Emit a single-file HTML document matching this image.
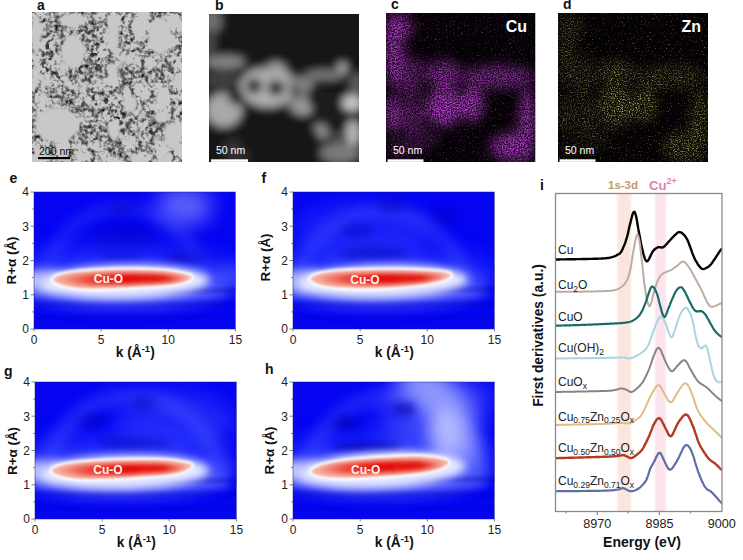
<!DOCTYPE html>
<html><head><meta charset="utf-8"><style>
html,body{margin:0;padding:0;background:#fff;width:743px;height:560px;overflow:hidden}
svg{position:absolute;left:0;top:0;font-family:"Liberation Sans", sans-serif}
</style></head><body>
<svg width="743" height="560" viewBox="0 0 743 560">
<filter id="bi" x="-50%" y="0" width="200%" height="100%"><feGaussianBlur stdDeviation="1.2 0"/></filter>
<rect x="617.5" y="193" width="13.5" height="318.5" fill="#fae6dc" filter="url(#bi)"/>
<rect x="655" y="193" width="11" height="318.5" fill="#fbe4ec" filter="url(#bi)"/>
<clipPath id="clipi"><rect x="555.5" y="193.5" width="166.5" height="318"/></clipPath>
<g clip-path="url(#clipi)" fill="none" stroke-linejoin="round" stroke-linecap="round">
<path d="M555.0,259.49 L555.8,259.49 L556.5,259.48 L557.2,259.46 L558.0,259.45 L558.8,259.44 L559.5,259.43 L560.2,259.42 L561.0,259.41 L561.8,259.40 L562.5,259.38 L563.2,259.37 L564.0,259.36 L564.8,259.35 L565.5,259.34 L566.2,259.33 L567.0,259.32 L567.8,259.30 L568.5,259.29 L569.2,259.28 L570.0,259.27 L570.8,259.26 L571.5,259.24 L572.2,259.23 L573.0,259.22 L573.8,259.21 L574.5,259.20 L575.2,259.18 L576.0,259.17 L576.8,259.16 L577.5,259.14 L578.2,259.13 L579.0,259.12 L579.8,259.10 L580.5,259.09 L581.2,259.08 L582.0,259.06 L582.8,259.05 L583.5,259.03 L584.2,259.02 L585.0,259.00 L585.8,258.98 L586.5,258.97 L587.2,258.95 L588.0,258.93 L588.8,258.92 L589.5,258.90 L590.2,258.89 L591.0,258.87 L591.8,258.85 L592.5,258.84 L593.2,258.82 L594.0,258.80 L594.8,258.78 L595.5,258.76 L596.2,258.74 L597.0,258.72 L597.8,258.70 L598.5,258.67 L599.2,258.65 L600.0,258.62 L600.8,258.58 L601.5,258.55 L602.2,258.51 L603.0,258.46 L603.8,258.41 L604.5,258.36 L605.2,258.29 L606.0,258.22 L606.8,258.14 L607.5,258.05 L608.2,257.95 L609.0,257.82 L609.8,257.68 L610.5,257.51 L611.2,257.33 L612.0,257.13 L612.8,256.91 L613.5,256.67 L614.2,256.39 L615.0,256.08 L615.8,255.73 L616.5,255.35 L617.2,254.94 L618.0,254.54 L618.8,254.14 L619.5,253.69 L620.2,253.03 L621.0,252.06 L621.8,250.78 L622.5,249.26 L623.2,247.59 L624.0,245.79 L624.8,243.87 L625.5,241.81 L626.2,239.55 L627.0,237.02 L627.8,234.14 L628.5,230.94 L629.2,227.56 L630.0,224.22 L630.8,221.09 L631.5,218.16 L632.2,215.45 L633.0,213.19 L633.8,211.83 L634.5,211.77 L635.2,213.19 L636.0,215.94 L636.8,219.67 L637.5,223.95 L638.2,228.40 L639.0,232.73 L639.8,236.82 L640.5,240.72 L641.2,244.48 L642.0,248.02 L642.8,251.27 L643.5,254.20 L644.2,256.78 L645.0,258.94 L645.8,260.52 L646.5,261.34 L647.2,261.34 L648.0,260.62 L648.8,259.41 L649.5,257.97 L650.2,256.45 L651.0,254.87 L651.8,253.32 L652.5,251.94 L653.2,250.83 L654.0,249.97 L654.8,249.28 L655.5,248.70 L656.2,248.19 L657.0,247.76 L657.8,247.40 L658.5,247.16 L659.2,247.08 L660.0,247.19 L660.8,247.40 L661.5,247.57 L662.2,247.57 L663.0,247.33 L663.8,246.87 L664.5,246.24 L665.2,245.51 L666.0,244.71 L666.8,243.87 L667.5,243.02 L668.2,242.17 L669.0,241.34 L669.8,240.52 L670.5,239.70 L671.2,238.87 L672.0,238.05 L672.8,237.24 L673.5,236.45 L674.2,235.71 L675.0,234.99 L675.8,234.29 L676.5,233.58 L677.2,232.94 L678.0,232.43 L678.8,232.13 L679.5,232.06 L680.2,232.20 L681.0,232.50 L681.8,232.93 L682.5,233.47 L683.2,234.10 L684.0,234.85 L684.8,235.71 L685.5,236.70 L686.2,237.84 L687.0,239.16 L687.8,240.69 L688.5,242.45 L689.2,244.38 L690.0,246.45 L690.8,248.59 L691.5,250.74 L692.2,252.83 L693.0,254.82 L693.8,256.64 L694.5,258.30 L695.2,259.80 L696.0,261.18 L696.8,262.47 L697.5,263.68 L698.2,264.80 L699.0,265.85 L699.8,266.79 L700.5,267.64 L701.2,268.33 L702.0,268.84 L702.8,269.09 L703.5,269.09 L704.2,268.88 L705.0,268.53 L705.8,268.15 L706.5,267.79 L707.2,267.41 L708.0,266.98 L708.8,266.46 L709.5,265.83 L710.2,265.08 L711.0,264.22 L711.8,263.26 L712.5,262.23 L713.2,261.14 L714.0,260.02 L714.8,258.89 L715.5,257.76 L716.2,256.63 L717.0,255.50 L717.8,254.36 L718.5,253.22 L719.2,252.07 L720.0,250.93 L720.8,249.89 L721.5,249.11" stroke="#050505" stroke-width="2.4"/>
<path d="M555.0,291.80 L555.8,291.79 L556.5,291.79 L557.2,291.78 L558.0,291.78 L558.8,291.78 L559.5,291.77 L560.2,291.77 L561.0,291.77 L561.8,291.76 L562.5,291.76 L563.2,291.75 L564.0,291.75 L564.8,291.75 L565.5,291.74 L566.2,291.74 L567.0,291.74 L567.8,291.73 L568.5,291.73 L569.2,291.72 L570.0,291.72 L570.8,291.71 L571.5,291.71 L572.2,291.71 L573.0,291.70 L573.8,291.70 L574.5,291.69 L575.2,291.68 L576.0,291.68 L576.8,291.67 L577.5,291.67 L578.2,291.66 L579.0,291.65 L579.8,291.65 L580.5,291.64 L581.2,291.63 L582.0,291.62 L582.8,291.61 L583.5,291.61 L584.2,291.60 L585.0,291.59 L585.8,291.58 L586.5,291.56 L587.2,291.55 L588.0,291.54 L588.8,291.52 L589.5,291.51 L590.2,291.49 L591.0,291.48 L591.8,291.46 L592.5,291.45 L593.2,291.43 L594.0,291.42 L594.8,291.40 L595.5,291.38 L596.2,291.37 L597.0,291.35 L597.8,291.34 L598.5,291.32 L599.2,291.30 L600.0,291.28 L600.8,291.26 L601.5,291.24 L602.2,291.22 L603.0,291.19 L603.8,291.17 L604.5,291.14 L605.2,291.10 L606.0,291.07 L606.8,291.02 L607.5,290.98 L608.2,290.93 L609.0,290.87 L609.8,290.81 L610.5,290.73 L611.2,290.65 L612.0,290.56 L612.8,290.45 L613.5,290.33 L614.2,290.19 L615.0,290.03 L615.8,289.85 L616.5,289.62 L617.2,289.36 L618.0,289.05 L618.8,288.67 L619.5,288.25 L620.2,287.77 L621.0,287.26 L621.8,286.72 L622.5,286.13 L623.2,285.46 L624.0,284.70 L624.8,283.81 L625.5,282.77 L626.2,281.56 L627.0,280.17 L627.8,278.54 L628.5,276.59 L629.2,274.21 L630.0,271.23 L630.8,267.52 L631.5,263.06 L632.2,258.16 L633.0,253.33 L633.8,248.85 L634.5,244.71 L635.2,240.91 L636.0,237.65 L636.8,235.33 L637.5,234.48 L638.2,235.50 L639.0,238.45 L639.8,242.96 L640.5,248.59 L641.2,255.11 L642.0,262.24 L642.8,269.49 L643.5,276.33 L644.2,282.56 L645.0,288.19 L645.8,293.17 L646.5,297.45 L647.2,300.98 L648.0,303.73 L648.8,305.61 L649.5,306.35 L650.2,305.70 L651.0,303.75 L651.8,300.98 L652.5,297.92 L653.2,294.81 L654.0,291.81 L654.8,289.08 L655.5,286.66 L656.2,284.49 L657.0,282.50 L657.8,280.68 L658.5,279.04 L659.2,277.61 L660.0,276.40 L660.8,275.44 L661.5,274.69 L662.2,274.10 L663.0,273.61 L663.8,273.16 L664.5,272.76 L665.2,272.39 L666.0,272.06 L666.8,271.75 L667.5,271.47 L668.2,271.18 L669.0,270.89 L669.8,270.57 L670.5,270.22 L671.2,269.83 L672.0,269.40 L672.8,268.94 L673.5,268.45 L674.2,267.93 L675.0,267.41 L675.8,266.87 L676.5,266.33 L677.2,265.75 L678.0,265.11 L678.8,264.40 L679.5,263.67 L680.2,262.96 L681.0,262.34 L681.8,261.86 L682.5,261.58 L683.2,261.53 L684.0,261.74 L684.8,262.19 L685.5,262.84 L686.2,263.65 L687.0,264.58 L687.8,265.60 L688.5,266.68 L689.2,267.81 L690.0,268.95 L690.8,270.11 L691.5,271.33 L692.2,272.65 L693.0,274.07 L693.8,275.55 L694.5,277.01 L695.2,278.42 L696.0,279.78 L696.8,281.12 L697.5,282.45 L698.2,283.78 L699.0,285.12 L699.8,286.49 L700.5,287.90 L701.2,289.37 L702.0,290.94 L702.8,292.60 L703.5,294.34 L704.2,296.10 L705.0,297.81 L705.8,299.41 L706.5,300.90 L707.2,302.28 L708.0,303.56 L708.8,304.68 L709.5,305.61 L710.2,306.29 L711.0,306.71 L711.8,306.87 L712.5,306.82 L713.2,306.63 L714.0,306.37 L714.8,306.09 L715.5,305.80 L716.2,305.50 L717.0,305.18 L717.8,304.83 L718.5,304.47 L719.2,304.11 L720.0,303.74 L720.8,303.41 L721.5,303.16" stroke="#bcaca2" stroke-width="2.0"/>
<path d="M555.0,325.69 L555.8,325.68 L556.5,325.66 L557.2,325.64 L558.0,325.62 L558.8,325.60 L559.5,325.58 L560.2,325.56 L561.0,325.54 L561.8,325.52 L562.5,325.50 L563.2,325.49 L564.0,325.47 L564.8,325.45 L565.5,325.43 L566.2,325.41 L567.0,325.39 L567.8,325.37 L568.5,325.35 L569.2,325.33 L570.0,325.30 L570.8,325.28 L571.5,325.26 L572.2,325.24 L573.0,325.22 L573.8,325.20 L574.5,325.18 L575.2,325.15 L576.0,325.13 L576.8,325.11 L577.5,325.08 L578.2,325.06 L579.0,325.03 L579.8,325.01 L580.5,324.98 L581.2,324.96 L582.0,324.93 L582.8,324.90 L583.5,324.87 L584.2,324.85 L585.0,324.82 L585.8,324.79 L586.5,324.76 L587.2,324.73 L588.0,324.70 L588.8,324.67 L589.5,324.64 L590.2,324.61 L591.0,324.58 L591.8,324.55 L592.5,324.52 L593.2,324.48 L594.0,324.45 L594.8,324.42 L595.5,324.39 L596.2,324.35 L597.0,324.32 L597.8,324.28 L598.5,324.25 L599.2,324.21 L600.0,324.18 L600.8,324.14 L601.5,324.10 L602.2,324.07 L603.0,324.03 L603.8,323.99 L604.5,323.96 L605.2,323.92 L606.0,323.88 L606.8,323.85 L607.5,323.81 L608.2,323.78 L609.0,323.75 L609.8,323.71 L610.5,323.68 L611.2,323.65 L612.0,323.61 L612.8,323.58 L613.5,323.54 L614.2,323.50 L615.0,323.47 L615.8,323.43 L616.5,323.39 L617.2,323.34 L618.0,323.30 L618.8,323.25 L619.5,323.20 L620.2,323.15 L621.0,323.09 L621.8,323.03 L622.5,322.97 L623.2,322.89 L624.0,322.81 L624.8,322.72 L625.5,322.63 L626.2,322.52 L627.0,322.41 L627.8,322.29 L628.5,322.15 L629.2,321.98 L630.0,321.79 L630.8,321.56 L631.5,321.28 L632.2,320.94 L633.0,320.55 L633.8,320.13 L634.5,319.66 L635.2,319.15 L636.0,318.59 L636.8,317.97 L637.5,317.28 L638.2,316.52 L639.0,315.67 L639.8,314.73 L640.5,313.67 L641.2,312.46 L642.0,311.09 L642.8,309.55 L643.5,307.85 L644.2,306.02 L645.0,304.09 L645.8,302.10 L646.5,300.02 L647.2,297.80 L648.0,295.46 L648.8,293.14 L649.5,290.98 L650.2,289.08 L651.0,287.58 L651.8,286.69 L652.5,286.51 L653.2,286.93 L654.0,287.77 L654.8,288.92 L655.5,290.29 L656.2,291.92 L657.0,293.88 L657.8,296.27 L658.5,299.05 L659.2,302.00 L660.0,304.94 L660.8,307.81 L661.5,310.60 L662.2,313.21 L663.0,315.40 L663.8,316.83 L664.5,317.18 L665.2,316.39 L666.0,314.76 L666.8,312.79 L667.5,310.82 L668.2,308.90 L669.0,306.99 L669.8,305.10 L670.5,303.23 L671.2,301.41 L672.0,299.59 L672.8,297.80 L673.5,296.05 L674.2,294.39 L675.0,292.87 L675.8,291.54 L676.5,290.40 L677.2,289.43 L678.0,288.62 L678.8,287.97 L679.5,287.50 L680.2,287.24 L681.0,287.24 L681.8,287.55 L682.5,288.21 L683.2,289.16 L684.0,290.32 L684.8,291.61 L685.5,293.01 L686.2,294.51 L687.0,296.11 L687.8,297.74 L688.5,299.33 L689.2,300.87 L690.0,302.36 L690.8,303.83 L691.5,305.27 L692.2,306.66 L693.0,307.95 L693.8,309.10 L694.5,310.04 L695.2,310.72 L696.0,311.15 L696.8,311.36 L697.5,311.44 L698.2,311.43 L699.0,311.33 L699.8,311.17 L700.5,311.07 L701.2,311.13 L702.0,311.40 L702.8,311.85 L703.5,312.46 L704.2,313.22 L705.0,314.11 L705.8,315.16 L706.5,316.35 L707.2,317.63 L708.0,318.95 L708.8,320.28 L709.5,321.63 L710.2,323.00 L711.0,324.38 L711.8,325.75 L712.5,327.07 L713.2,328.32 L714.0,329.48 L714.8,330.54 L715.5,331.48 L716.2,332.33 L717.0,333.09 L717.8,333.80 L718.5,334.47 L719.2,335.11 L720.0,335.73 L720.8,336.29 L721.5,336.72" stroke="#1a6b66" stroke-width="2.2"/>
<path d="M555.0,358.50 L555.8,358.49 L556.5,358.48 L557.2,358.48 L558.0,358.47 L558.8,358.46 L559.5,358.45 L560.2,358.44 L561.0,358.44 L561.8,358.43 L562.5,358.42 L563.2,358.41 L564.0,358.41 L564.8,358.40 L565.5,358.39 L566.2,358.38 L567.0,358.38 L567.8,358.37 L568.5,358.36 L569.2,358.35 L570.0,358.34 L570.8,358.34 L571.5,358.33 L572.2,358.32 L573.0,358.31 L573.8,358.31 L574.5,358.30 L575.2,358.29 L576.0,358.28 L576.8,358.27 L577.5,358.27 L578.2,358.26 L579.0,358.25 L579.8,358.24 L580.5,358.23 L581.2,358.23 L582.0,358.22 L582.8,358.21 L583.5,358.20 L584.2,358.19 L585.0,358.19 L585.8,358.18 L586.5,358.17 L587.2,358.16 L588.0,358.15 L588.8,358.14 L589.5,358.13 L590.2,358.13 L591.0,358.12 L591.8,358.11 L592.5,358.10 L593.2,358.09 L594.0,358.08 L594.8,358.07 L595.5,358.06 L596.2,358.05 L597.0,358.04 L597.8,358.03 L598.5,358.02 L599.2,358.01 L600.0,358.00 L600.8,357.99 L601.5,357.97 L602.2,357.96 L603.0,357.95 L603.8,357.93 L604.5,357.92 L605.2,357.90 L606.0,357.88 L606.8,357.86 L607.5,357.84 L608.2,357.82 L609.0,357.80 L609.8,357.78 L610.5,357.76 L611.2,357.73 L612.0,357.71 L612.8,357.69 L613.5,357.66 L614.2,357.64 L615.0,357.62 L615.8,357.59 L616.5,357.57 L617.2,357.55 L618.0,357.54 L618.8,357.52 L619.5,357.51 L620.2,357.50 L621.0,357.50 L621.8,357.51 L622.5,357.52 L623.2,357.56 L624.0,357.61 L624.8,357.70 L625.5,357.81 L626.2,357.95 L627.0,358.10 L627.8,358.23 L628.5,358.31 L629.2,358.32 L630.0,358.26 L630.8,358.13 L631.5,357.94 L632.2,357.72 L633.0,357.46 L633.8,357.16 L634.5,356.83 L635.2,356.48 L636.0,356.10 L636.8,355.70 L637.5,355.28 L638.2,354.85 L639.0,354.40 L639.8,353.94 L640.5,353.46 L641.2,352.97 L642.0,352.45 L642.8,351.90 L643.5,351.32 L644.2,350.69 L645.0,349.99 L645.8,349.19 L646.5,348.24 L647.2,347.09 L648.0,345.69 L648.8,344.04 L649.5,342.22 L650.2,340.28 L651.0,338.24 L651.8,336.10 L652.5,333.92 L653.2,331.75 L654.0,329.66 L654.8,327.68 L655.5,325.77 L656.2,323.90 L657.0,322.08 L657.8,320.37 L658.5,318.89 L659.2,317.73 L660.0,316.98 L660.8,316.71 L661.5,316.92 L662.2,317.55 L663.0,318.54 L663.8,319.78 L664.5,321.20 L665.2,322.75 L666.0,324.48 L666.8,326.43 L667.5,328.62 L668.2,330.92 L669.0,333.17 L669.8,335.16 L670.5,336.63 L671.2,337.30 L672.0,337.02 L672.8,335.80 L673.5,333.93 L674.2,331.76 L675.0,329.49 L675.8,327.13 L676.5,324.72 L677.2,322.35 L678.0,320.14 L678.8,318.10 L679.5,316.21 L680.2,314.48 L681.0,312.91 L681.8,311.55 L682.5,310.39 L683.2,309.41 L684.0,308.62 L684.8,308.05 L685.5,307.76 L686.2,307.81 L687.0,308.25 L687.8,309.07 L688.5,310.21 L689.2,311.57 L690.0,313.09 L690.8,314.83 L691.5,316.91 L692.2,319.52 L693.0,322.73 L693.8,326.42 L694.5,330.29 L695.2,334.06 L696.0,337.58 L696.8,340.74 L697.5,343.37 L698.2,345.37 L699.0,346.77 L699.8,347.69 L700.5,348.19 L701.2,348.32 L702.0,348.07 L702.8,347.50 L703.5,346.74 L704.2,345.99 L705.0,345.51 L705.8,345.61 L706.5,346.58 L707.2,348.51 L708.0,351.21 L708.8,354.39 L709.5,357.82 L710.2,361.37 L711.0,364.87 L711.8,368.22 L712.5,371.33 L713.2,374.10 L714.0,376.41 L714.8,378.23 L715.5,379.63 L716.2,380.68 L717.0,381.44 L717.8,381.95 L718.5,382.22 L719.2,382.29 L720.0,382.24 L720.8,382.14 L721.5,382.06" stroke="#a9d5e3" stroke-width="2.0"/>
<path d="M555.0,391.99 L555.8,391.98 L556.5,391.97 L557.2,391.96 L558.0,391.94 L558.8,391.93 L559.5,391.91 L560.2,391.90 L561.0,391.89 L561.8,391.87 L562.5,391.86 L563.2,391.84 L564.0,391.83 L564.8,391.82 L565.5,391.80 L566.2,391.79 L567.0,391.78 L567.8,391.76 L568.5,391.75 L569.2,391.74 L570.0,391.72 L570.8,391.71 L571.5,391.69 L572.2,391.68 L573.0,391.67 L573.8,391.65 L574.5,391.64 L575.2,391.63 L576.0,391.61 L576.8,391.60 L577.5,391.58 L578.2,391.57 L579.0,391.55 L579.8,391.54 L580.5,391.53 L581.2,391.51 L582.0,391.50 L582.8,391.48 L583.5,391.47 L584.2,391.45 L585.0,391.44 L585.8,391.42 L586.5,391.41 L587.2,391.39 L588.0,391.38 L588.8,391.36 L589.5,391.35 L590.2,391.33 L591.0,391.31 L591.8,391.30 L592.5,391.28 L593.2,391.27 L594.0,391.25 L594.8,391.23 L595.5,391.22 L596.2,391.20 L597.0,391.18 L597.8,391.16 L598.5,391.14 L599.2,391.12 L600.0,391.10 L600.8,391.08 L601.5,391.06 L602.2,391.04 L603.0,391.02 L603.8,390.99 L604.5,390.97 L605.2,390.94 L606.0,390.91 L606.8,390.88 L607.5,390.85 L608.2,390.81 L609.0,390.77 L609.8,390.72 L610.5,390.67 L611.2,390.60 L612.0,390.51 L612.8,390.40 L613.5,390.27 L614.2,390.13 L615.0,389.99 L615.8,389.84 L616.5,389.67 L617.2,389.46 L618.0,389.23 L618.8,388.98 L619.5,388.76 L620.2,388.58 L621.0,388.48 L621.8,388.47 L622.5,388.55 L623.2,388.70 L624.0,388.91 L624.8,389.16 L625.5,389.44 L626.2,389.73 L627.0,390.06 L627.8,390.46 L628.5,390.94 L629.2,391.42 L630.0,391.81 L630.8,392.01 L631.5,392.00 L632.2,391.79 L633.0,391.44 L633.8,390.98 L634.5,390.45 L635.2,389.88 L636.0,389.26 L636.8,388.62 L637.5,387.95 L638.2,387.25 L639.0,386.52 L639.8,385.77 L640.5,384.97 L641.2,384.11 L642.0,383.15 L642.8,382.04 L643.5,380.79 L644.2,379.42 L645.0,377.98 L645.8,376.50 L646.5,374.97 L647.2,373.37 L648.0,371.70 L648.8,369.92 L649.5,368.02 L650.2,365.95 L651.0,363.72 L651.8,361.40 L652.5,359.13 L653.2,357.01 L654.0,355.07 L654.8,353.25 L655.5,351.53 L656.2,349.99 L657.0,348.77 L657.8,348.00 L658.5,347.76 L659.2,348.10 L660.0,348.96 L660.8,350.25 L661.5,351.85 L662.2,353.63 L663.0,355.51 L663.8,357.40 L664.5,359.23 L665.2,360.96 L666.0,362.57 L666.8,364.12 L667.5,365.65 L668.2,367.13 L669.0,368.49 L669.8,369.66 L670.5,370.55 L671.2,371.10 L672.0,371.27 L672.8,371.05 L673.5,370.50 L674.2,369.70 L675.0,368.77 L675.8,367.81 L676.5,366.91 L677.2,366.08 L678.0,365.29 L678.8,364.48 L679.5,363.65 L680.2,362.83 L681.0,362.04 L681.8,361.34 L682.5,360.75 L683.2,360.35 L684.0,360.18 L684.8,360.31 L685.5,360.77 L686.2,361.56 L687.0,362.66 L687.8,363.97 L688.5,365.42 L689.2,366.89 L690.0,368.31 L690.8,369.65 L691.5,370.96 L692.2,372.28 L693.0,373.61 L693.8,374.95 L694.5,376.25 L695.2,377.50 L696.0,378.67 L696.8,379.74 L697.5,380.70 L698.2,381.54 L699.0,382.26 L699.8,382.90 L700.5,383.46 L701.2,383.97 L702.0,384.44 L702.8,384.89 L703.5,385.33 L704.2,385.78 L705.0,386.24 L705.8,386.75 L706.5,387.31 L707.2,387.92 L708.0,388.59 L708.8,389.30 L709.5,390.04 L710.2,390.81 L711.0,391.59 L711.8,392.36 L712.5,393.13 L713.2,393.87 L714.0,394.58 L714.8,395.26 L715.5,395.92 L716.2,396.56 L717.0,397.19 L717.8,397.82 L718.5,398.44 L719.2,399.05 L720.0,399.66 L720.8,400.21 L721.5,400.62" stroke="#8a8388" stroke-width="2.0"/>
<path d="M555.0,424.99 L555.8,424.98 L556.5,424.97 L557.2,424.95 L558.0,424.94 L558.8,424.92 L559.5,424.91 L560.2,424.89 L561.0,424.87 L561.8,424.86 L562.5,424.84 L563.2,424.83 L564.0,424.81 L564.8,424.80 L565.5,424.78 L566.2,424.77 L567.0,424.75 L567.8,424.74 L568.5,424.72 L569.2,424.71 L570.0,424.69 L570.8,424.67 L571.5,424.66 L572.2,424.64 L573.0,424.63 L573.8,424.61 L574.5,424.60 L575.2,424.58 L576.0,424.57 L576.8,424.55 L577.5,424.53 L578.2,424.52 L579.0,424.50 L579.8,424.49 L580.5,424.47 L581.2,424.45 L582.0,424.44 L582.8,424.42 L583.5,424.41 L584.2,424.39 L585.0,424.37 L585.8,424.36 L586.5,424.34 L587.2,424.32 L588.0,424.30 L588.8,424.29 L589.5,424.27 L590.2,424.25 L591.0,424.23 L591.8,424.22 L592.5,424.20 L593.2,424.18 L594.0,424.16 L594.8,424.14 L595.5,424.12 L596.2,424.10 L597.0,424.08 L597.8,424.06 L598.5,424.04 L599.2,424.02 L600.0,424.00 L600.8,423.98 L601.5,423.95 L602.2,423.93 L603.0,423.90 L603.8,423.87 L604.5,423.84 L605.2,423.81 L606.0,423.78 L606.8,423.75 L607.5,423.72 L608.2,423.68 L609.0,423.65 L609.8,423.61 L610.5,423.57 L611.2,423.53 L612.0,423.49 L612.8,423.45 L613.5,423.41 L614.2,423.36 L615.0,423.32 L615.8,423.28 L616.5,423.24 L617.2,423.19 L618.0,423.15 L618.8,423.12 L619.5,423.08 L620.2,423.05 L621.0,423.02 L621.8,423.00 L622.5,423.01 L623.2,423.03 L624.0,423.08 L624.8,423.15 L625.5,423.25 L626.2,423.34 L627.0,423.41 L627.8,423.42 L628.5,423.34 L629.2,423.19 L630.0,422.96 L630.8,422.68 L631.5,422.35 L632.2,422.00 L633.0,421.61 L633.8,421.20 L634.5,420.76 L635.2,420.30 L636.0,419.81 L636.8,419.30 L637.5,418.76 L638.2,418.18 L639.0,417.56 L639.8,416.88 L640.5,416.13 L641.2,415.25 L642.0,414.22 L642.8,412.98 L643.5,411.53 L644.2,409.92 L645.0,408.23 L645.8,406.57 L646.5,404.93 L647.2,403.29 L648.0,401.62 L648.8,399.95 L649.5,398.33 L650.2,396.79 L651.0,395.36 L651.8,393.99 L652.5,392.65 L653.2,391.32 L654.0,390.01 L654.8,388.77 L655.5,387.63 L656.2,386.64 L657.0,385.85 L657.8,385.31 L658.5,385.11 L659.2,385.31 L660.0,385.92 L660.8,386.91 L661.5,388.19 L662.2,389.65 L663.0,391.18 L663.8,392.67 L664.5,394.04 L665.2,395.32 L666.0,396.59 L666.8,397.88 L667.5,399.14 L668.2,400.31 L669.0,401.29 L669.8,402.00 L670.5,402.36 L671.2,402.31 L672.0,401.83 L672.8,400.97 L673.5,399.80 L674.2,398.43 L675.0,396.99 L675.8,395.57 L676.5,394.24 L677.2,393.02 L678.0,391.87 L678.8,390.72 L679.5,389.56 L680.2,388.41 L681.0,387.29 L681.8,386.23 L682.5,385.26 L683.2,384.43 L684.0,383.78 L684.8,383.37 L685.5,383.26 L686.2,383.49 L687.0,384.06 L687.8,384.97 L688.5,386.19 L689.2,387.64 L690.0,389.26 L690.8,390.97 L691.5,392.75 L692.2,394.66 L693.0,396.75 L693.8,399.01 L694.5,401.36 L695.2,403.69 L696.0,405.90 L696.8,407.91 L697.5,409.69 L698.2,411.25 L699.0,412.62 L699.8,413.86 L700.5,415.01 L701.2,416.09 L702.0,417.11 L702.8,418.09 L703.5,419.03 L704.2,419.95 L705.0,420.86 L705.8,421.75 L706.5,422.63 L707.2,423.50 L708.0,424.33 L708.8,425.12 L709.5,425.86 L710.2,426.57 L711.0,427.25 L711.8,427.93 L712.5,428.60 L713.2,429.30 L714.0,430.01 L714.8,430.75 L715.5,431.49 L716.2,432.24 L717.0,432.99 L717.8,433.74 L718.5,434.49 L719.2,435.24 L720.0,435.98 L720.8,436.66 L721.5,437.16" stroke="#dfbd88" stroke-width="2.0"/>
<path d="M555.0,458.19 L555.8,458.18 L556.5,458.16 L557.2,458.14 L558.0,458.12 L558.8,458.09 L559.5,458.07 L560.2,458.05 L561.0,458.03 L561.8,458.01 L562.5,457.99 L563.2,457.97 L564.0,457.95 L564.8,457.93 L565.5,457.91 L566.2,457.89 L567.0,457.87 L567.8,457.85 L568.5,457.82 L569.2,457.80 L570.0,457.78 L570.8,457.76 L571.5,457.74 L572.2,457.72 L573.0,457.70 L573.8,457.68 L574.5,457.66 L575.2,457.64 L576.0,457.62 L576.8,457.60 L577.5,457.58 L578.2,457.55 L579.0,457.53 L579.8,457.51 L580.5,457.49 L581.2,457.47 L582.0,457.45 L582.8,457.43 L583.5,457.41 L584.2,457.39 L585.0,457.36 L585.8,457.34 L586.5,457.32 L587.2,457.30 L588.0,457.28 L588.8,457.26 L589.5,457.23 L590.2,457.21 L591.0,457.19 L591.8,457.17 L592.5,457.15 L593.2,457.12 L594.0,457.10 L594.8,457.08 L595.5,457.06 L596.2,457.03 L597.0,457.01 L597.8,456.99 L598.5,456.97 L599.2,456.94 L600.0,456.92 L600.8,456.89 L601.5,456.87 L602.2,456.85 L603.0,456.82 L603.8,456.79 L604.5,456.77 L605.2,456.74 L606.0,456.71 L606.8,456.69 L607.5,456.66 L608.2,456.63 L609.0,456.60 L609.8,456.56 L610.5,456.53 L611.2,456.50 L612.0,456.46 L612.8,456.42 L613.5,456.37 L614.2,456.32 L615.0,456.27 L615.8,456.20 L616.5,456.14 L617.2,456.07 L618.0,455.99 L618.8,455.89 L619.5,455.76 L620.2,455.59 L621.0,455.39 L621.8,455.20 L622.5,455.09 L623.2,455.10 L624.0,455.24 L624.8,455.49 L625.5,455.81 L626.2,456.18 L627.0,456.55 L627.8,456.91 L628.5,457.29 L629.2,457.67 L630.0,457.99 L630.8,458.13 L631.5,458.06 L632.2,457.80 L633.0,457.42 L633.8,456.97 L634.5,456.47 L635.2,455.93 L636.0,455.37 L636.8,454.79 L637.5,454.19 L638.2,453.57 L639.0,452.93 L639.8,452.26 L640.5,451.55 L641.2,450.76 L642.0,449.84 L642.8,448.74 L643.5,447.47 L644.2,446.08 L645.0,444.64 L645.8,443.17 L646.5,441.65 L647.2,440.09 L648.0,438.50 L648.8,436.86 L649.5,435.14 L650.2,433.30 L651.0,431.35 L651.8,429.35 L652.5,427.42 L653.2,425.66 L654.0,424.11 L654.8,422.72 L655.5,421.44 L656.2,420.28 L657.0,419.30 L657.8,418.58 L658.5,418.17 L659.2,418.14 L660.0,418.52 L660.8,419.30 L661.5,420.40 L662.2,421.74 L663.0,423.22 L663.8,424.76 L664.5,426.28 L665.2,427.76 L666.0,429.21 L666.8,430.73 L667.5,432.31 L668.2,433.83 L669.0,435.10 L669.8,435.95 L670.5,436.28 L671.2,436.05 L672.0,435.29 L672.8,434.11 L673.5,432.62 L674.2,430.95 L675.0,429.21 L675.8,427.48 L676.5,425.86 L677.2,424.39 L678.0,423.09 L678.8,421.92 L679.5,420.80 L680.2,419.73 L681.0,418.69 L681.8,417.71 L682.5,416.81 L683.2,416.02 L684.0,415.35 L684.8,414.84 L685.5,414.55 L686.2,414.53 L687.0,414.83 L687.8,415.46 L688.5,416.42 L689.2,417.68 L690.0,419.18 L690.8,420.86 L691.5,422.62 L692.2,424.43 L693.0,426.30 L693.8,428.27 L694.5,430.35 L695.2,432.54 L696.0,434.78 L696.8,437.05 L697.5,439.28 L698.2,441.41 L699.0,443.36 L699.8,445.05 L700.5,446.45 L701.2,447.69 L702.0,448.88 L702.8,450.08 L703.5,451.28 L704.2,452.47 L705.0,453.63 L705.8,454.76 L706.5,455.84 L707.2,456.87 L708.0,457.82 L708.8,458.69 L709.5,459.45 L710.2,460.12 L711.0,460.71 L711.8,461.25 L712.5,461.75 L713.2,462.24 L714.0,462.75 L714.8,463.29 L715.5,463.88 L716.2,464.54 L717.0,465.25 L717.8,466.00 L718.5,466.77 L719.2,467.57 L720.0,468.36 L720.8,469.10 L721.5,469.64" stroke="#b53a22" stroke-width="2.4"/>
<path d="M555.0,491.25 L555.8,491.24 L556.5,491.23 L557.2,491.23 L558.0,491.22 L558.8,491.21 L559.5,491.21 L560.2,491.20 L561.0,491.20 L561.8,491.19 L562.5,491.18 L563.2,491.18 L564.0,491.17 L564.8,491.16 L565.5,491.16 L566.2,491.15 L567.0,491.15 L567.8,491.14 L568.5,491.13 L569.2,491.13 L570.0,491.12 L570.8,491.12 L571.5,491.11 L572.2,491.10 L573.0,491.10 L573.8,491.09 L574.5,491.08 L575.2,491.08 L576.0,491.07 L576.8,491.06 L577.5,491.06 L578.2,491.05 L579.0,491.04 L579.8,491.04 L580.5,491.03 L581.2,491.02 L582.0,491.02 L582.8,491.01 L583.5,491.00 L584.2,490.99 L585.0,490.99 L585.8,490.98 L586.5,490.97 L587.2,490.96 L588.0,490.95 L588.8,490.94 L589.5,490.94 L590.2,490.93 L591.0,490.92 L591.8,490.91 L592.5,490.90 L593.2,490.89 L594.0,490.88 L594.8,490.87 L595.5,490.86 L596.2,490.85 L597.0,490.83 L597.8,490.82 L598.5,490.81 L599.2,490.80 L600.0,490.78 L600.8,490.77 L601.5,490.75 L602.2,490.73 L603.0,490.71 L603.8,490.69 L604.5,490.67 L605.2,490.65 L606.0,490.62 L606.8,490.59 L607.5,490.56 L608.2,490.53 L609.0,490.49 L609.8,490.45 L610.5,490.41 L611.2,490.36 L612.0,490.30 L612.8,490.23 L613.5,490.15 L614.2,490.06 L615.0,489.96 L615.8,489.85 L616.5,489.73 L617.2,489.61 L618.0,489.49 L618.8,489.34 L619.5,489.14 L620.2,488.88 L621.0,488.59 L621.8,488.31 L622.5,488.14 L623.2,488.13 L624.0,488.30 L624.8,488.60 L625.5,488.99 L626.2,489.43 L627.0,489.87 L627.8,490.27 L628.5,490.60 L629.2,490.85 L630.0,491.04 L630.8,491.14 L631.5,491.16 L632.2,491.10 L633.0,490.97 L633.8,490.78 L634.5,490.55 L635.2,490.28 L636.0,489.98 L636.8,489.62 L637.5,489.21 L638.2,488.73 L639.0,488.19 L639.8,487.59 L640.5,486.94 L641.2,486.25 L642.0,485.52 L642.8,484.75 L643.5,483.92 L644.2,483.03 L645.0,482.04 L645.8,480.91 L646.5,479.53 L647.2,477.77 L648.0,475.59 L648.8,473.14 L649.5,470.76 L650.2,468.73 L651.0,467.09 L651.8,465.71 L652.5,464.45 L653.2,463.20 L654.0,461.86 L654.8,460.37 L655.5,458.76 L656.2,457.11 L657.0,455.56 L657.8,454.23 L658.5,453.27 L659.2,452.80 L660.0,452.92 L660.8,453.63 L661.5,454.82 L662.2,456.35 L663.0,458.05 L663.8,459.75 L664.5,461.36 L665.2,462.90 L666.0,464.45 L666.8,466.00 L667.5,467.44 L668.2,468.59 L669.0,469.36 L669.8,469.69 L670.5,469.60 L671.2,469.17 L672.0,468.47 L672.8,467.57 L673.5,466.54 L674.2,465.40 L675.0,464.20 L675.8,462.96 L676.5,461.71 L677.2,460.43 L678.0,459.07 L678.8,457.60 L679.5,456.04 L680.2,454.41 L681.0,452.76 L681.8,451.14 L682.5,449.60 L683.2,448.19 L684.0,446.98 L684.8,446.03 L685.5,445.39 L686.2,445.10 L687.0,445.14 L687.8,445.52 L688.5,446.20 L689.2,447.17 L690.0,448.37 L690.8,449.77 L691.5,451.34 L692.2,453.13 L693.0,455.19 L693.8,457.49 L694.5,459.97 L695.2,462.52 L696.0,465.06 L696.8,467.48 L697.5,469.75 L698.2,471.86 L699.0,473.86 L699.8,475.79 L700.5,477.66 L701.2,479.45 L702.0,481.17 L702.8,482.79 L703.5,484.29 L704.2,485.66 L705.0,486.86 L705.8,487.87 L706.5,488.68 L707.2,489.32 L708.0,489.84 L708.8,490.28 L709.5,490.71 L710.2,491.17 L711.0,491.71 L711.8,492.33 L712.5,493.04 L713.2,493.81 L714.0,494.61 L714.8,495.43 L715.5,496.27 L716.2,497.12 L717.0,497.98 L717.8,498.85 L718.5,499.72 L719.2,500.59 L720.0,501.45 L720.8,502.24 L721.5,502.81" stroke="#5d70a3" stroke-width="2.2"/>
</g>
<rect x="555.5" y="193.5" width="166.5" height="318" fill="none" stroke="#8a8a8a" stroke-width="1.3"/>
<line x1="597.3" y1="511.5" x2="597.3" y2="515" stroke="#8a8a8a" stroke-width="1.2"/>
<line x1="659.4" y1="511.5" x2="659.4" y2="515" stroke="#8a8a8a" stroke-width="1.2"/>
<line x1="566.0" y1="511.5" x2="566.0" y2="513.5" stroke="#8a8a8a" stroke-width="1.2"/>
<line x1="628.2" y1="511.5" x2="628.2" y2="513.5" stroke="#8a8a8a" stroke-width="1.2"/>
<line x1="690.6" y1="511.5" x2="690.6" y2="513.5" stroke="#8a8a8a" stroke-width="1.2"/>
<text x="597.3" y="527.7" font-size="12.6" text-anchor="middle" fill="#222">8970</text>
<text x="659.4" y="527.7" font-size="12.6" text-anchor="middle" fill="#222">8985</text>
<text x="721.8" y="527.7" font-size="12.6" text-anchor="middle" fill="#222">9000</text>
<text x="642" y="547" font-size="14" font-weight="bold" text-anchor="middle" fill="#111">Energy (eV)</text>
<text transform="translate(542.5,335.5) rotate(-90)" font-size="13.8" font-weight="bold" text-anchor="middle" fill="#111">First derivatives (a.u.)</text>
<text x="558" y="253.7" font-size="12" fill="#222">Cu</text>
<text x="558" y="289" font-size="12" fill="#222">Cu<tspan font-size="8.5" dy="2.5">2</tspan><tspan dy="-2.5">O</tspan></text>
<text x="558" y="320.5" font-size="12" fill="#222">CuO</text>
<text x="558" y="352" font-size="12" fill="#222">Cu(OH)<tspan font-size="8.5" dy="2.5">2</tspan></text>
<text x="558" y="386" font-size="12" fill="#222">CuO<tspan font-size="8.5" dy="2.5">x</tspan></text>
<text x="558" y="420.5" font-size="12" fill="#222">Cu<tspan font-size="8.5" dy="2.5">0.75</tspan><tspan dy="-2.5">Zn</tspan><tspan font-size="8.5" dy="2.5">0.25</tspan><tspan dy="-2.5">O</tspan><tspan font-size="8.5" dy="2.5">x</tspan></text>
<text x="558" y="452" font-size="12" fill="#222">Cu<tspan font-size="8.5" dy="2.5">0.50</tspan><tspan dy="-2.5">Zn</tspan><tspan font-size="8.5" dy="2.5">0.50</tspan><tspan dy="-2.5">O</tspan><tspan font-size="8.5" dy="2.5">x</tspan></text>
<text x="558" y="485" font-size="12" fill="#222">Cu<tspan font-size="8.5" dy="2.5">0.29</tspan><tspan dy="-2.5">Zn</tspan><tspan font-size="8.5" dy="2.5">0.71</tspan><tspan dy="-2.5">O</tspan><tspan font-size="8.5" dy="2.5">x</tspan></text>
<text x="608" y="189" font-size="11.5" font-weight="bold" fill="#c9976e">1s-3d</text>
<text x="649" y="189.8" font-size="13.2" font-weight="bold" fill="#e67fb0">Cu<tspan font-size="9" dy="-5.5">2+</tspan></text>
<defs>
<filter id="b1" x="-100%" y="-100%" width="300%" height="300%"><feGaussianBlur stdDeviation="1"/></filter>
<filter id="b2" x="-100%" y="-100%" width="300%" height="300%"><feGaussianBlur stdDeviation="2"/></filter>
<filter id="b3" x="-100%" y="-100%" width="300%" height="300%"><feGaussianBlur stdDeviation="3"/></filter>
<filter id="b4" x="-100%" y="-100%" width="300%" height="300%"><feGaussianBlur stdDeviation="4"/></filter>
<filter id="b5" x="-100%" y="-100%" width="300%" height="300%"><feGaussianBlur stdDeviation="5"/></filter>
<filter id="b6" x="-100%" y="-100%" width="300%" height="300%"><feGaussianBlur stdDeviation="6"/></filter>
<filter id="b8" x="-100%" y="-100%" width="300%" height="300%"><feGaussianBlur stdDeviation="8"/></filter>
<filter id="b10" x="-100%" y="-100%" width="300%" height="300%"><feGaussianBlur stdDeviation="10"/></filter>
<filter id="b14" x="-100%" y="-100%" width="300%" height="300%"><feGaussianBlur stdDeviation="14"/></filter>
<radialGradient id="redg" cx="0.55" cy="0.5" r="0.5"><stop offset="0" stop-color="#e40000"/><stop offset="0.6" stop-color="#e8180a"/><stop offset="0.85" stop-color="#f26a5a"/><stop offset="0.97" stop-color="#fde6e0"/><stop offset="1" stop-color="#ffffff"/></radialGradient>
<filter id="b1h" x="-50%" y="-50%" width="200%" height="200%"><feGaussianBlur stdDeviation="1.6"/></filter>
<linearGradient id="redlg" x1="0" y1="0" x2="1" y2="0"><stop offset="0" stop-color="#f4a898"/><stop offset="0.25" stop-color="#ec4434"/><stop offset="0.5" stop-color="#e40c08"/><stop offset="0.82" stop-color="#e51c12"/><stop offset="1" stop-color="#f29888"/></linearGradient>
</defs>
<g transform="translate(32,12)">
<clipPath id="ca"><rect x="0" y="0" width="150" height="150"/></clipPath>
<filter id="texa" x="0" y="0" width="150" height="150" filterUnits="userSpaceOnUse" color-interpolation-filters="sRGB"><feTurbulence type="turbulence" baseFrequency="0.05" numOctaves="3" seed="7" result="t0"/><feColorMatrix in="t0" type="matrix" values="1 0 0 0 0  1 0 0 0 0  1 0 0 0 0  0 0 0 0 1" result="t"/><feTurbulence type="fractalNoise" baseFrequency="0.3" numOctaves="2" seed="3" result="f0"/><feColorMatrix in="f0" type="matrix" values="1 0 0 0 0  1 0 0 0 0  1 0 0 0 0  0 0 0 0 1" result="f"/><feComposite in="t" in2="f" operator="arithmetic" k1="0" k2="1.9" k3="1.5" k4="-0.36" result="c"/><feComponentTransfer in="c" result="d"><feFuncR type="linear" slope="0.785"/><feFuncG type="linear" slope="0.785"/><feFuncB type="linear" slope="0.785"/></feComponentTransfer><feGaussianBlur in="d" stdDeviation="0.6"/></filter>
<g clip-path="url(#ca)">
<rect x="0" y="0" width="150" height="150" filter="url(#texa)"/>
<filter id="texa2" x="0" y="0" width="150" height="150" filterUnits="userSpaceOnUse" color-interpolation-filters="sRGB"><feTurbulence type="fractalNoise" baseFrequency="0.22" numOctaves="2" seed="9" result="n"/><feColorMatrix in="n" type="matrix" values="0 0 0 0 0.15  0 0 0 0 0.15  0 0 0 0 0.15  5 0 0 0 -2.6"/><feGaussianBlur stdDeviation="0.5"/></filter>
<mask id="mda" maskUnits="userSpaceOnUse" x="0" y="0" width="150" height="150"><g fill="#fff" filter="url(#b5)">
<ellipse cx="16" cy="45" rx="9" ry="30"/>
<ellipse cx="64" cy="40" rx="9" ry="33"/>
<ellipse cx="145" cy="50" rx="7" ry="14"/>
<ellipse cx="85" cy="105" rx="12" ry="18"/>
<ellipse cx="118" cy="118" rx="15" ry="8"/>
<ellipse cx="60" cy="88" rx="30" ry="9"/>
<ellipse cx="100" cy="60" rx="10" ry="8"/>
</g></mask>
<rect x="0" y="0" width="150" height="150" filter="url(#texa2)" mask="url(#mda)"/>
<g fill="#c8c8c8" filter="url(#b1)">
<ellipse cx="4" cy="22" rx="5" ry="19"/>
<ellipse cx="40" cy="8" rx="13" ry="6"/>
<ellipse cx="41" cy="40" rx="12" ry="16"/>
<ellipse cx="81" cy="22" rx="6" ry="19"/>
<ellipse cx="128" cy="24" rx="12" ry="18"/>
<ellipse cx="4" cy="64" rx="4" ry="9"/>
<ellipse cx="81" cy="62" rx="5" ry="11"/>
<ellipse cx="25" cy="113" rx="22" ry="17"/>
<ellipse cx="98" cy="92" rx="7" ry="9"/>
<ellipse cx="82" cy="118" rx="6" ry="10"/>
<ellipse cx="130" cy="105" rx="8" ry="6"/>
<ellipse cx="141" cy="124" rx="9" ry="14"/>
<ellipse cx="132" cy="83" rx="6" ry="7"/>
</g>
</g>
<rect x="6" y="145" width="32" height="2.2" fill="#000"/>
<text x="7" y="143" font-size="10.5" fill="#111">200 nm</text>
</g>
<text x="37" y="10" font-size="14" font-weight="bold" fill="#111">a</text>
<clipPath id="cb"><rect x="209" y="14" width="150" height="148"/></clipPath>
<g clip-path="url(#cb)"><g filter="url(#b4)">
<rect x="190" y="0" width="190" height="180" fill="#161616"/>
<ellipse cx="212" cy="21" rx="10" ry="12" fill="#6e6e6e"/>
<ellipse cx="210" cy="44" rx="5" ry="14" fill="#4e4e4e"/>
<ellipse cx="226" cy="62" rx="21" ry="6.5" fill="#858585"/>
<ellipse cx="222" cy="80" rx="18" ry="9" fill="#404040"/>
<ellipse cx="268" cy="87" rx="28" ry="20" fill="#b0b0b0"/>
<ellipse cx="300" cy="84" rx="14" ry="7" fill="#858585"/>
<ellipse cx="325" cy="75" rx="20" ry="5" fill="#7a7a7a"/>
<ellipse cx="342.5" cy="67.5" rx="5" ry="5" fill="#b0b0b0"/>
<ellipse cx="356" cy="84" rx="6" ry="12" fill="#606060"/>
<ellipse cx="224" cy="110" rx="18" ry="17" fill="#a8a8a8"/>
<ellipse cx="298" cy="100" rx="10" ry="14" fill="#8a8a8a"/>
<ellipse cx="304" cy="109" rx="8" ry="6" fill="#a0a0a0"/>
<ellipse cx="352" cy="103" rx="10" ry="8" fill="#c8c8c8"/>
<ellipse cx="320" cy="132" rx="8" ry="8" fill="#959595"/>
<ellipse cx="353" cy="133" rx="7" ry="13" fill="#b8b8b8"/>
<ellipse cx="340" cy="153" rx="20" ry="10" fill="#7a7a7a"/>
<ellipse cx="272" cy="68" rx="14" ry="6" fill="#a0a0a0"/>
<ellipse cx="238" cy="150" rx="16" ry="12" fill="#303030"/>
<ellipse cx="258" cy="57" rx="15" ry="12" fill="#181818"/>
<ellipse cx="254" cy="86" rx="8" ry="8" fill="#282828"/>
<ellipse cx="276" cy="88" rx="8.5" ry="8" fill="#282828"/>
<ellipse cx="296" cy="92" rx="6" ry="6" fill="#484848"/>
<ellipse cx="236" cy="97" rx="8" ry="8" fill="#202020"/>
<ellipse cx="262" cy="136" rx="23" ry="23" fill="#181818"/>
<ellipse cx="297" cy="143" rx="24" ry="21" fill="#181818"/>
<ellipse cx="327" cy="108" rx="15" ry="17" fill="#1c1c1c"/>
<ellipse cx="337" cy="137" rx="8" ry="5" fill="#505050"/>
<ellipse cx="310" cy="40" rx="50" ry="20" fill="#141414"/>
</g></g>
<rect x="211" y="159.3" width="37" height="2.6" fill="#fff"/>
<text x="216" y="154" font-size="10.5" fill="#fff">50 nm</text>
<text x="215" y="9.5" font-size="14" font-weight="bold" fill="#111">b</text>
<g transform="translate(386,13)">
<clipPath id="cc"><rect x="0" y="0" width="149.5" height="149"/></clipPath>
<filter id="dtc" x="0" y="0" width="150" height="150" filterUnits="userSpaceOnUse" color-interpolation-filters="sRGB"><feTurbulence type="fractalNoise" baseFrequency="0.73" numOctaves="2" seed="11" result="n"/><feColorMatrix in="n" type="matrix" values="0 0 0 0 0.85  0 0 0 0 0.3  0 0 0 0 0.95  3.0 0 0 0 -1.08"/></filter>
<filter id="dbgc" x="0" y="0" width="150" height="150" filterUnits="userSpaceOnUse" color-interpolation-filters="sRGB"><feTurbulence type="fractalNoise" baseFrequency="0.73" numOctaves="2" seed="31" result="n"/><feColorMatrix in="n" type="matrix" values="0 0 0 0 0.85  0 0 0 0 0.3  0 0 0 0 0.95  4 0 0 0 -2.48"/></filter>
<mask id="mc" maskUnits="userSpaceOnUse" x="0" y="0" width="150" height="150"><rect x="0" y="0" width="150" height="150" fill="#000"/><g filter="url(#b6)">
<ellipse cx="24" cy="77" rx="12" ry="10" fill="rgb(121,121,121)"/>
<ellipse cx="34" cy="127" rx="18" ry="10" fill="rgb(84,84,84)"/>
<ellipse cx="16" cy="137" rx="16" ry="10" fill="rgb(72,72,72)"/>
<ellipse cx="26" cy="59" rx="14" ry="16" fill="rgb(121,121,121)"/>
<ellipse cx="26" cy="104" rx="13" ry="17" fill="rgb(121,121,121)"/>
<ellipse cx="58" cy="61" rx="17" ry="14" fill="rgb(169,169,169)"/>
<ellipse cx="112" cy="64" rx="37" ry="12" fill="rgb(157,157,157)"/>
<ellipse cx="13" cy="14" rx="14" ry="14" fill="rgb(181,181,181)"/>
<ellipse cx="8" cy="37" rx="9" ry="38" fill="rgb(218,218,218)"/>
<ellipse cx="6" cy="101" rx="7" ry="20" fill="rgb(218,218,218)"/>
<ellipse cx="58" cy="94" rx="18" ry="20" fill="rgb(218,218,218)"/>
<ellipse cx="86" cy="91" rx="12" ry="18" fill="rgb(218,218,218)"/>
<ellipse cx="141" cy="112" rx="8" ry="38" fill="rgb(218,218,218)"/>
<ellipse cx="126" cy="134" rx="22" ry="15" fill="rgb(205,205,205)"/>
</g></mask>
<g clip-path="url(#cc)">
<rect x="0" y="0" width="149.5" height="149" fill="#050205"/>
<rect x="0" y="0" width="150" height="150" filter="url(#dbgc)" opacity="0.55"/>
<g mask="url(#mc)"><rect x="0" y="0" width="150" height="150" fill="rgba(115,32,135,0.42)"/><rect x="0" y="0" width="150" height="150" filter="url(#dtc)"/></g>
</g>
<rect x="1.5" y="146.3" width="36" height="2.6" fill="#fff"/>
<text x="7" y="140.5" font-size="10.5" fill="#fff">50 nm</text>
<text x="141" y="19.3" font-size="16" font-weight="bold" fill="#fff" text-anchor="end">Cu</text>
</g>
<g transform="translate(558,13)">
<clipPath id="cd"><rect x="0" y="0" width="150" height="149"/></clipPath>
<filter id="dtd" x="0" y="0" width="150" height="150" filterUnits="userSpaceOnUse" color-interpolation-filters="sRGB"><feTurbulence type="fractalNoise" baseFrequency="0.73" numOctaves="2" seed="5" result="n"/><feColorMatrix in="n" type="matrix" values="0 0 0 0 0.85  0 0 0 0 0.83  0 0 0 0 0.45  3.0 0 0 0 -1.44"/></filter>
<filter id="dbgd" x="0" y="0" width="150" height="150" filterUnits="userSpaceOnUse" color-interpolation-filters="sRGB"><feTurbulence type="fractalNoise" baseFrequency="0.73" numOctaves="2" seed="25" result="n"/><feColorMatrix in="n" type="matrix" values="0 0 0 0 0.85  0 0 0 0 0.83  0 0 0 0 0.45  4 0 0 0 -2.56"/></filter>
<mask id="md" maskUnits="userSpaceOnUse" x="0" y="0" width="150" height="150"><rect x="0" y="0" width="150" height="150" fill="#000"/><g filter="url(#b6)">
<ellipse cx="24" cy="77" rx="12" ry="10" fill="rgb(108,108,108)"/>
<ellipse cx="34" cy="127" rx="18" ry="10" fill="rgb(75,75,75)"/>
<ellipse cx="16" cy="137" rx="16" ry="10" fill="rgb(65,65,65)"/>
<ellipse cx="26" cy="59" rx="14" ry="16" fill="rgb(108,108,108)"/>
<ellipse cx="26" cy="104" rx="13" ry="17" fill="rgb(108,108,108)"/>
<ellipse cx="58" cy="61" rx="17" ry="14" fill="rgb(174,174,174)"/>
<ellipse cx="112" cy="64" rx="37" ry="12" fill="rgb(140,140,140)"/>
<ellipse cx="13" cy="14" rx="14" ry="14" fill="rgb(105,105,105)"/>
<ellipse cx="8" cy="37" rx="9" ry="38" fill="rgb(126,126,126)"/>
<ellipse cx="6" cy="101" rx="7" ry="20" fill="rgb(126,126,126)"/>
<ellipse cx="58" cy="94" rx="18" ry="20" fill="rgb(216,216,216)"/>
<ellipse cx="86" cy="91" rx="12" ry="18" fill="rgb(216,216,216)"/>
<ellipse cx="141" cy="112" rx="8" ry="38" fill="rgb(195,195,195)"/>
<ellipse cx="126" cy="134" rx="22" ry="15" fill="rgb(184,184,184)"/>
</g></mask>
<g clip-path="url(#cd)">
<rect x="0" y="0" width="150" height="149" fill="#050205"/>
<rect x="0" y="0" width="150" height="150" filter="url(#dbgd)" opacity="0.55"/>
<g mask="url(#md)"><rect x="0" y="0" width="150" height="150" fill="rgba(60,58,25,0.25)"/><rect x="0" y="0" width="150" height="150" filter="url(#dtd)"/></g>
</g>
<rect x="1.5" y="146.3" width="36" height="2.6" fill="#fff"/>
<text x="7" y="140.5" font-size="10.5" fill="#fff">50 nm</text>
<text x="143" y="19.3" font-size="16" font-weight="bold" fill="#fff" text-anchor="end">Zn</text>
</g>
<text x="391" y="8.5" font-size="14" font-weight="bold" fill="#111">c</text>
<text x="563" y="9" font-size="14" font-weight="bold" fill="#111">d</text>
<g transform="translate(34,192)">
<clipPath id="ce"><rect x="0" y="0" width="201.5" height="137"/></clipPath>
<g clip-path="url(#ce)">
<rect x="0" y="0" width="201.5" height="137" fill="#0505f2"/>
<ellipse cx="85" cy="82" rx="120" ry="30" fill="#2a3aff" opacity="0.6" filter="url(#b10)"/>
<ellipse cx="90" cy="94" rx="105" ry="20" fill="#8a98ff" opacity="0.5" filter="url(#b8)"/>
<ellipse cx="150" cy="14" rx="28" ry="20" fill="#8890ff" opacity="0.65" filter="url(#b10)"/>
<ellipse cx="10" cy="89" rx="22" ry="11" fill="#e8ecff" opacity="0.8" filter="url(#b5)"/>
<ellipse cx="205" cy="85" rx="25" ry="12" fill="#6070ff" opacity="0.5" filter="url(#b8)"/>
<path d="M10,100 A80,84 0 0 1 170,100" fill="none" stroke="#4858ff" stroke-width="14.0" opacity="0.27999999999999997" filter="url(#b6)"/>
<ellipse cx="95" cy="101" rx="100" ry="7" fill="#7080ff" opacity="0.45" filter="url(#b4)"/>
<ellipse cx="90" cy="45" rx="35" ry="9" fill="#0000a8" opacity="0.35" filter="url(#b6)"/>
<ellipse cx="150" cy="66" rx="22" ry="5" fill="#0000a8" opacity="0.45" filter="url(#b4)"/>
<ellipse cx="88" cy="65" rx="20" ry="4" fill="#0000a8" opacity="0.3" filter="url(#b3)"/>
<ellipse cx="88" cy="16" rx="14" ry="8" fill="#0000a8" opacity="0.3" filter="url(#b5)"/>
<rect x="115" y="97" width="90" height="3" fill="#0000b0" opacity="0.6" filter="url(#b2)"/>
<rect x="0" y="111" width="202" height="3" fill="#0000b0" opacity="0.4" filter="url(#b2)"/>
<rect x="0" y="124" width="202" height="3" fill="#0000b0" opacity="0.3" filter="url(#b2)"/>
<ellipse cx="90.4" cy="90.2" rx="85.0" ry="16.7" fill="#e4e8ff" transform="rotate(-1.5 88.35000000000001 87.2)" filter="url(#b4)"/>
<path d="M19.3,87.2 C20.1,85.2 25.2,82.7 35.1,81.2 C45.0,79.7 63.4,78.4 78.7,78.0 C94.0,77.6 115.0,78.0 127.1,78.7 C139.2,79.4 146.2,81.2 151.3,82.4 C156.4,83.6 159.0,84.5 157.4,86.0 C155.8,87.5 150.8,90.2 141.7,91.6 C132.6,93.0 117.5,93.7 102.9,94.5 C88.4,95.3 66.5,96.6 54.4,96.4 C42.3,96.2 36.0,94.8 30.2,93.3 C24.4,91.8 18.5,89.2 19.3,87.2Z" fill="#fff" stroke="#fff" stroke-width="5" stroke-linejoin="round" filter="url(#b1h)"/>
<path d="M19.3,87.2 C20.1,85.2 25.2,82.7 35.1,81.2 C45.0,79.7 63.4,78.4 78.7,78.0 C94.0,77.6 115.0,78.0 127.1,78.7 C139.2,79.4 146.2,81.2 151.3,82.4 C156.4,83.6 159.0,84.5 157.4,86.0 C155.8,87.5 150.8,90.2 141.7,91.6 C132.6,93.0 117.5,93.7 102.9,94.5 C88.4,95.3 66.5,96.6 54.4,96.4 C42.3,96.2 36.0,94.8 30.2,93.3 C24.4,91.8 18.5,89.2 19.3,87.2Z" fill="#f5b4a6" filter="url(#b1)"/>
<path d="M24.1,87.2 C24.9,85.9 29.6,84.4 38.8,83.5 C48.0,82.5 65.1,81.8 79.4,81.5 C93.6,81.2 113.1,81.5 124.4,81.9 C135.6,82.4 142.2,83.5 146.9,84.2 C151.6,85.0 154.1,85.5 152.6,86.5 C151.1,87.4 146.4,89.0 138.0,89.9 C129.5,90.8 115.4,91.2 101.9,91.7 C88.4,92.2 68.0,93.0 56.8,92.9 C45.5,92.8 39.7,91.9 34.3,91.0 C28.8,90.0 23.4,88.5 24.1,87.2Z" fill="url(#redlg)" filter="url(#b2)"/>
</g>
<rect x="0" y="0" width="201.5" height="137" fill="none" stroke="#1a1a80" stroke-width="0.8" opacity="0.6"/>
<line x1="-3.5" y1="137.0" x2="0" y2="137.0" stroke="#666" stroke-width="0.8"/>
<line x1="-2" y1="119.9" x2="0" y2="119.9" stroke="#666" stroke-width="0.8"/>
<line x1="-3.5" y1="102.8" x2="0" y2="102.8" stroke="#666" stroke-width="0.8"/>
<line x1="-2" y1="85.6" x2="0" y2="85.6" stroke="#666" stroke-width="0.8"/>
<line x1="-3.5" y1="68.5" x2="0" y2="68.5" stroke="#666" stroke-width="0.8"/>
<line x1="-2" y1="51.4" x2="0" y2="51.4" stroke="#666" stroke-width="0.8"/>
<line x1="-3.5" y1="34.2" x2="0" y2="34.2" stroke="#666" stroke-width="0.8"/>
<line x1="-2" y1="17.1" x2="0" y2="17.1" stroke="#666" stroke-width="0.8"/>
<line x1="-3.5" y1="0.0" x2="0" y2="0.0" stroke="#666" stroke-width="0.8"/>
<line x1="0.0" y1="137" x2="0.0" y2="139.5" stroke="#666" stroke-width="0.8"/>
<line x1="67.2" y1="137" x2="67.2" y2="139.5" stroke="#666" stroke-width="0.8"/>
<line x1="134.3" y1="137" x2="134.3" y2="139.5" stroke="#666" stroke-width="0.8"/>
<line x1="201.5" y1="137" x2="201.5" y2="139.5" stroke="#666" stroke-width="0.8"/>
<text x="-5" y="141.3" font-size="12" text-anchor="end" fill="#222">0</text>
<text x="-5" y="107.0" font-size="12" text-anchor="end" fill="#222">1</text>
<text x="-5" y="72.8" font-size="12" text-anchor="end" fill="#222">2</text>
<text x="-5" y="38.5" font-size="12" text-anchor="end" fill="#222">3</text>
<text x="-5" y="4.3" font-size="12" text-anchor="end" fill="#222">4</text>
<text x="0.0" y="151.5" font-size="12" text-anchor="middle" fill="#222">0</text>
<text x="67.2" y="151.5" font-size="12" text-anchor="middle" fill="#222">5</text>
<text x="134.3" y="151.5" font-size="12" text-anchor="middle" fill="#222">10</text>
<text x="201.5" y="151.5" font-size="12" text-anchor="middle" fill="#222">15</text>
<text x="101.2" y="165.2" font-size="13.8" font-weight="bold" text-anchor="middle" fill="#111">k (Å<tspan font-size="9.5" dy="-5.5">-1</tspan><tspan dy="5.5">)</tspan></text>
<text transform="translate(-18,68.5) rotate(-90)" font-size="13.4" font-weight="bold" text-anchor="middle" fill="#111">R+α (Å)</text>
<text x="74.5" y="91.3" font-size="12" font-weight="bold" fill="#fff0ee" text-anchor="middle">Cu-O</text>
</g>
<g transform="translate(293,192)">
<clipPath id="cf"><rect x="0" y="0" width="201.5" height="137"/></clipPath>
<g clip-path="url(#cf)">
<rect x="0" y="0" width="201.5" height="137" fill="#0505f2"/>
<ellipse cx="85" cy="82" rx="120" ry="30" fill="#2a3aff" opacity="0.6" filter="url(#b10)"/>
<ellipse cx="88" cy="93" rx="105" ry="20" fill="#8a98ff" opacity="0.5" filter="url(#b8)"/>
<ellipse cx="70" cy="40" rx="70" ry="30" fill="#3040ff" opacity="0.45" filter="url(#b10)"/>
<ellipse cx="10" cy="89" rx="22" ry="11" fill="#e8ecff" opacity="0.8" filter="url(#b5)"/>
<path d="M4,100 A84,80 0 0 1 172,100" fill="none" stroke="#4858ff" stroke-width="14.0" opacity="0.36000000000000004" filter="url(#b6)"/>
<ellipse cx="95" cy="101" rx="100" ry="7" fill="#7080ff" opacity="0.45" filter="url(#b4)"/>
<ellipse cx="98" cy="13" rx="14" ry="7" fill="#0000a8" opacity="0.4" filter="url(#b5)"/>
<ellipse cx="64" cy="38" rx="16" ry="7" fill="#0000a8" opacity="0.4" filter="url(#b5)"/>
<ellipse cx="152" cy="24" rx="12" ry="8" fill="#0000a8" opacity="0.35" filter="url(#b5)"/>
<ellipse cx="80" cy="61" rx="35" ry="6" fill="#0000a8" opacity="0.45" filter="url(#b4)"/>
<rect x="115" y="96" width="90" height="3" fill="#0000b0" opacity="0.6" filter="url(#b2)"/>
<rect x="0" y="111" width="202" height="3" fill="#0000b0" opacity="0.4" filter="url(#b2)"/>
<rect x="0" y="124" width="202" height="3" fill="#0000b0" opacity="0.3" filter="url(#b2)"/>
<ellipse cx="89.3" cy="89.8" rx="85.7" ry="16.4" fill="#e4e8ff" transform="rotate(-1.5 87.35 86.85)" filter="url(#b4)"/>
<path d="M17.7,87.2 C17.7,84.8 24.8,81.5 38.3,80.0 C51.8,78.5 80.7,78.0 98.9,78.0 C117.1,78.0 137.6,79.0 147.3,80.0 C157.0,81.0 159.0,82.5 157.0,84.3 C155.0,86.1 146.9,89.0 135.2,90.9 C123.5,92.8 102.9,95.1 86.8,95.7 C70.7,96.3 49.8,95.9 38.3,94.5 C26.8,93.1 17.7,89.6 17.7,87.2Z" fill="#fff" stroke="#fff" stroke-width="5" stroke-linejoin="round" filter="url(#b1h)"/>
<path d="M17.7,87.2 C17.7,84.8 24.8,81.5 38.3,80.0 C51.8,78.5 80.7,78.0 98.9,78.0 C117.1,78.0 137.6,79.0 147.3,80.0 C157.0,81.0 159.0,82.5 157.0,84.3 C155.0,86.1 146.9,89.0 135.2,90.9 C123.5,92.8 102.9,95.1 86.8,95.7 C70.7,96.3 49.8,95.9 38.3,94.5 C26.8,93.1 17.7,89.6 17.7,87.2Z" fill="#f5b4a6" filter="url(#b1)"/>
<path d="M22.6,87.1 C22.6,85.6 29.1,83.6 41.7,82.6 C54.3,81.7 81.2,81.4 98.1,81.4 C115.0,81.4 134.1,82.0 143.1,82.6 C152.1,83.3 154.0,84.1 152.1,85.3 C150.2,86.4 142.7,88.2 131.9,89.4 C121.0,90.5 101.9,92.0 86.8,92.3 C71.8,92.7 52.4,92.5 41.7,91.6 C31.0,90.7 22.6,88.6 22.6,87.1Z" fill="url(#redlg)" filter="url(#b2)"/>
</g>
<rect x="0" y="0" width="201.5" height="137" fill="none" stroke="#1a1a80" stroke-width="0.8" opacity="0.6"/>
<line x1="-3.5" y1="137.0" x2="0" y2="137.0" stroke="#666" stroke-width="0.8"/>
<line x1="-2" y1="119.9" x2="0" y2="119.9" stroke="#666" stroke-width="0.8"/>
<line x1="-3.5" y1="102.8" x2="0" y2="102.8" stroke="#666" stroke-width="0.8"/>
<line x1="-2" y1="85.6" x2="0" y2="85.6" stroke="#666" stroke-width="0.8"/>
<line x1="-3.5" y1="68.5" x2="0" y2="68.5" stroke="#666" stroke-width="0.8"/>
<line x1="-2" y1="51.4" x2="0" y2="51.4" stroke="#666" stroke-width="0.8"/>
<line x1="-3.5" y1="34.2" x2="0" y2="34.2" stroke="#666" stroke-width="0.8"/>
<line x1="-2" y1="17.1" x2="0" y2="17.1" stroke="#666" stroke-width="0.8"/>
<line x1="-3.5" y1="0.0" x2="0" y2="0.0" stroke="#666" stroke-width="0.8"/>
<line x1="0.0" y1="137" x2="0.0" y2="139.5" stroke="#666" stroke-width="0.8"/>
<line x1="67.2" y1="137" x2="67.2" y2="139.5" stroke="#666" stroke-width="0.8"/>
<line x1="134.3" y1="137" x2="134.3" y2="139.5" stroke="#666" stroke-width="0.8"/>
<line x1="201.5" y1="137" x2="201.5" y2="139.5" stroke="#666" stroke-width="0.8"/>
<text x="-5" y="141.3" font-size="12" text-anchor="end" fill="#222">0</text>
<text x="-5" y="107.0" font-size="12" text-anchor="end" fill="#222">1</text>
<text x="-5" y="72.8" font-size="12" text-anchor="end" fill="#222">2</text>
<text x="-5" y="38.5" font-size="12" text-anchor="end" fill="#222">3</text>
<text x="-5" y="4.3" font-size="12" text-anchor="end" fill="#222">4</text>
<text x="0.0" y="151.5" font-size="12" text-anchor="middle" fill="#222">0</text>
<text x="67.2" y="151.5" font-size="12" text-anchor="middle" fill="#222">5</text>
<text x="134.3" y="151.5" font-size="12" text-anchor="middle" fill="#222">10</text>
<text x="201.5" y="151.5" font-size="12" text-anchor="middle" fill="#222">15</text>
<text x="101.2" y="165.2" font-size="13.8" font-weight="bold" text-anchor="middle" fill="#111">k (Å<tspan font-size="9.5" dy="-5.5">-1</tspan><tspan dy="5.5">)</tspan></text>
<text transform="translate(-22.6,65.5) rotate(-90)" font-size="13.4" font-weight="bold" text-anchor="middle" fill="#111">R+α (Å)</text>
<text x="72" y="91.5" font-size="12" font-weight="bold" fill="#fff0ee" text-anchor="middle">Cu-O</text>
</g>
<g transform="translate(35,382)">
<clipPath id="cg"><rect x="0" y="0" width="201.5" height="137"/></clipPath>
<g clip-path="url(#cg)">
<rect x="0" y="0" width="201.5" height="137" fill="#0505f2"/>
<ellipse cx="85" cy="82" rx="120" ry="30" fill="#2a3aff" opacity="0.6" filter="url(#b10)"/>
<ellipse cx="88" cy="93" rx="105" ry="20" fill="#8a98ff" opacity="0.5" filter="url(#b8)"/>
<ellipse cx="140" cy="40" rx="60" ry="30" fill="#4050ff" opacity="0.45" filter="url(#b10)"/>
<ellipse cx="10" cy="89" rx="22" ry="11" fill="#e8ecff" opacity="0.8" filter="url(#b5)"/>
<path d="M10,104 A88,90 0 0 1 186,104" fill="none" stroke="#4858ff" stroke-width="16.799999999999997" opacity="0.4" filter="url(#b6)"/>
<ellipse cx="95" cy="101" rx="100" ry="7" fill="#7080ff" opacity="0.45" filter="url(#b4)"/>
<ellipse cx="58" cy="38" rx="14" ry="7" fill="#0000a8" opacity="0.4" filter="url(#b5)"/>
<ellipse cx="109" cy="21" rx="12" ry="7" fill="#0000a8" opacity="0.4" filter="url(#b5)"/>
<ellipse cx="100" cy="61" rx="36" ry="5" fill="#0000a8" opacity="0.45" filter="url(#b4)"/>
<rect x="118" y="97" width="90" height="3" fill="#0000b0" opacity="0.6" filter="url(#b2)"/>
<rect x="0" y="111" width="202" height="3" fill="#0000b0" opacity="0.4" filter="url(#b2)"/>
<rect x="0" y="124" width="202" height="3" fill="#0000b0" opacity="0.3" filter="url(#b2)"/>
<ellipse cx="88.8" cy="90.6" rx="85.7" ry="16.8" fill="#e4e8ff" transform="rotate(-1.5 86.75 87.6)" filter="url(#b4)"/>
<path d="M17.1,88.4 C17.9,86.3 24.0,83.5 34.1,81.9 C44.2,80.3 62.4,79.3 77.7,78.7 C93.0,78.1 114.0,77.9 126.1,78.3 C138.2,78.7 145.2,80.2 150.3,81.2 C155.4,82.2 158.0,82.7 156.4,84.3 C154.8,85.9 149.8,89.2 140.7,90.9 C131.6,92.6 116.5,93.5 101.9,94.5 C87.4,95.5 65.5,96.9 53.4,96.9 C41.3,96.9 35.2,95.9 29.2,94.5 C23.1,93.1 16.3,90.5 17.1,88.4Z" fill="#fff" stroke="#fff" stroke-width="5" stroke-linejoin="round" filter="url(#b1h)"/>
<path d="M17.1,88.4 C17.9,86.3 24.0,83.5 34.1,81.9 C44.2,80.3 62.4,79.3 77.7,78.7 C93.0,78.1 114.0,77.9 126.1,78.3 C138.2,78.7 145.2,80.2 150.3,81.2 C155.4,82.2 158.0,82.7 156.4,84.3 C154.8,85.9 149.8,89.2 140.7,90.9 C131.6,92.6 116.5,93.5 101.9,94.5 C87.4,95.5 65.5,96.9 53.4,96.9 C41.3,96.9 35.2,95.9 29.2,94.5 C23.1,93.1 16.3,90.5 17.1,88.4Z" fill="#f5b4a6" filter="url(#b1)"/>
<path d="M22.0,88.1 C22.7,86.8 28.4,85.1 37.8,84.1 C47.2,83.1 64.1,82.5 78.3,82.1 C92.6,81.7 112.1,81.6 123.3,81.8 C134.6,82.1 141.2,83.0 145.9,83.6 C150.5,84.3 153.0,84.6 151.5,85.6 C150.0,86.6 145.4,88.6 136.9,89.6 C128.5,90.7 114.4,91.3 100.8,91.9 C87.3,92.5 67.0,93.4 55.7,93.4 C44.5,93.4 38.9,92.8 33.2,91.9 C27.6,91.0 21.2,89.4 22.0,88.1Z" fill="url(#redlg)" filter="url(#b2)"/>
</g>
<rect x="0" y="0" width="201.5" height="137" fill="none" stroke="#1a1a80" stroke-width="0.8" opacity="0.6"/>
<line x1="-3.5" y1="137.0" x2="0" y2="137.0" stroke="#666" stroke-width="0.8"/>
<line x1="-2" y1="119.9" x2="0" y2="119.9" stroke="#666" stroke-width="0.8"/>
<line x1="-3.5" y1="102.8" x2="0" y2="102.8" stroke="#666" stroke-width="0.8"/>
<line x1="-2" y1="85.6" x2="0" y2="85.6" stroke="#666" stroke-width="0.8"/>
<line x1="-3.5" y1="68.5" x2="0" y2="68.5" stroke="#666" stroke-width="0.8"/>
<line x1="-2" y1="51.4" x2="0" y2="51.4" stroke="#666" stroke-width="0.8"/>
<line x1="-3.5" y1="34.2" x2="0" y2="34.2" stroke="#666" stroke-width="0.8"/>
<line x1="-2" y1="17.1" x2="0" y2="17.1" stroke="#666" stroke-width="0.8"/>
<line x1="-3.5" y1="0.0" x2="0" y2="0.0" stroke="#666" stroke-width="0.8"/>
<line x1="0.0" y1="137" x2="0.0" y2="139.5" stroke="#666" stroke-width="0.8"/>
<line x1="67.2" y1="137" x2="67.2" y2="139.5" stroke="#666" stroke-width="0.8"/>
<line x1="134.3" y1="137" x2="134.3" y2="139.5" stroke="#666" stroke-width="0.8"/>
<line x1="201.5" y1="137" x2="201.5" y2="139.5" stroke="#666" stroke-width="0.8"/>
<text x="-5" y="141.3" font-size="12" text-anchor="end" fill="#222">0</text>
<text x="-5" y="107.0" font-size="12" text-anchor="end" fill="#222">1</text>
<text x="-5" y="72.8" font-size="12" text-anchor="end" fill="#222">2</text>
<text x="-5" y="38.5" font-size="12" text-anchor="end" fill="#222">3</text>
<text x="-5" y="4.3" font-size="12" text-anchor="end" fill="#222">4</text>
<text x="0.0" y="151.5" font-size="12" text-anchor="middle" fill="#222">0</text>
<text x="67.2" y="151.5" font-size="12" text-anchor="middle" fill="#222">5</text>
<text x="134.3" y="151.5" font-size="12" text-anchor="middle" fill="#222">10</text>
<text x="201.5" y="151.5" font-size="12" text-anchor="middle" fill="#222">15</text>
<text x="101.2" y="165.2" font-size="13.8" font-weight="bold" text-anchor="middle" fill="#111">k (Å<tspan font-size="9.5" dy="-5.5">-1</tspan><tspan dy="5.5">)</tspan></text>
<text transform="translate(-18,69.0) rotate(-90)" font-size="13.4" font-weight="bold" text-anchor="middle" fill="#111">R+α (Å)</text>
<text x="73" y="91.5" font-size="12" font-weight="bold" fill="#fff0ee" text-anchor="middle">Cu-O</text>
</g>
<g transform="translate(293,382)">
<clipPath id="ch"><rect x="0" y="0" width="201.5" height="137"/></clipPath>
<g clip-path="url(#ch)">
<rect x="0" y="0" width="201.5" height="137" fill="#0505f2"/>
<ellipse cx="85" cy="82" rx="120" ry="30" fill="#2a3aff" opacity="0.6" filter="url(#b10)"/>
<ellipse cx="88" cy="92" rx="105" ry="20" fill="#8a98ff" opacity="0.5" filter="url(#b8)"/>
<ellipse cx="175" cy="18" rx="25" ry="20" fill="#6878ff" opacity="0.4" filter="url(#b10)"/>
<ellipse cx="10" cy="89" rx="22" ry="11" fill="#e8ecff" opacity="0.8" filter="url(#b5)"/>
<path d="M14,100 A86,86 0 0 1 186,100" fill="none" stroke="#4858ff" stroke-width="16.799999999999997" opacity="0.36000000000000004" filter="url(#b6)"/>
<ellipse cx="95" cy="101" rx="100" ry="7" fill="#7080ff" opacity="0.45" filter="url(#b4)"/>
<ellipse cx="128" cy="35" rx="38" ry="40" fill="#6070ff" opacity="0.55" filter="url(#b14)"/><path d="M112,-10 Q172,20 166,82" fill="none" stroke="#a8b0ff" stroke-width="40" opacity="0.8" filter="url(#b10)"/><ellipse cx="152" cy="52" rx="16" ry="24" fill="#d0d6ff" opacity="0.6" filter="url(#b8)"/>
<ellipse cx="52" cy="41" rx="12" ry="7" fill="#0000a8" opacity="0.6" filter="url(#b4)"/>
<ellipse cx="111" cy="27" rx="12" ry="7" fill="#0000a8" opacity="0.6" filter="url(#b4)"/>
<ellipse cx="74" cy="65" rx="34" ry="5" fill="#0000a8" opacity="0.65" filter="url(#b3)"/>
<rect x="118" y="96" width="90" height="3" fill="#0000b0" opacity="0.6" filter="url(#b2)"/>
<rect x="0" y="111" width="202" height="3" fill="#0000b0" opacity="0.4" filter="url(#b2)"/>
<rect x="0" y="124" width="202" height="3" fill="#0000b0" opacity="0.3" filter="url(#b2)"/>
<ellipse cx="88.8" cy="88.2" rx="83.8" ry="18.1" fill="#e4e8ff" transform="rotate(-3 86.8 85.15)" filter="url(#b4)"/>
<path d="M19.0,88.4 C21.0,86.4 29.0,83.1 38.3,81.2 C47.6,79.3 60.6,78.1 74.7,77.0 C88.8,75.9 110.6,74.5 123.1,74.6 C135.6,74.7 144.6,76.3 149.8,77.5 C155.1,78.7 156.6,80.1 154.6,81.9 C152.6,83.7 147.0,86.5 137.7,88.4 C128.4,90.3 113.5,92.1 98.9,93.3 C84.4,94.5 62.5,95.7 50.4,95.7 C38.3,95.7 31.4,94.5 26.2,93.3 C21.0,92.1 17.0,90.4 19.0,88.4Z" fill="#fff" stroke="#fff" stroke-width="5" stroke-linejoin="round" filter="url(#b1h)"/>
<path d="M19.0,88.4 C21.0,86.4 29.0,83.1 38.3,81.2 C47.6,79.3 60.6,78.1 74.7,77.0 C88.8,75.9 110.6,74.5 123.1,74.6 C135.6,74.7 144.6,76.3 149.8,77.5 C155.1,78.7 156.6,80.1 154.6,81.9 C152.6,83.7 147.0,86.5 137.7,88.4 C128.4,90.3 113.5,92.1 98.9,93.3 C84.4,94.5 62.5,95.7 50.4,95.7 C38.3,95.7 31.4,94.5 26.2,93.3 C21.0,92.1 17.0,90.4 19.0,88.4Z" fill="#f5b4a6" filter="url(#b1)"/>
<path d="M23.7,87.2 C25.6,85.9 33.1,83.9 41.7,82.7 C50.3,81.5 62.4,80.8 75.5,80.1 C88.7,79.4 108.9,78.6 120.6,78.6 C132.2,78.7 140.5,79.7 145.4,80.4 C150.3,81.2 151.7,82.0 149.9,83.1 C148.0,84.3 142.8,86.0 134.1,87.2 C125.5,88.3 111.6,89.4 98.1,90.2 C84.5,91.0 64.2,91.7 52.9,91.7 C41.7,91.7 35.3,91.0 30.4,90.2 C25.6,89.4 21.9,88.4 23.7,87.2Z" fill="url(#redlg)" filter="url(#b2)"/>
</g>
<rect x="0" y="0" width="201.5" height="137" fill="none" stroke="#1a1a80" stroke-width="0.8" opacity="0.6"/>
<line x1="-3.5" y1="137.0" x2="0" y2="137.0" stroke="#666" stroke-width="0.8"/>
<line x1="-2" y1="119.9" x2="0" y2="119.9" stroke="#666" stroke-width="0.8"/>
<line x1="-3.5" y1="102.8" x2="0" y2="102.8" stroke="#666" stroke-width="0.8"/>
<line x1="-2" y1="85.6" x2="0" y2="85.6" stroke="#666" stroke-width="0.8"/>
<line x1="-3.5" y1="68.5" x2="0" y2="68.5" stroke="#666" stroke-width="0.8"/>
<line x1="-2" y1="51.4" x2="0" y2="51.4" stroke="#666" stroke-width="0.8"/>
<line x1="-3.5" y1="34.2" x2="0" y2="34.2" stroke="#666" stroke-width="0.8"/>
<line x1="-2" y1="17.1" x2="0" y2="17.1" stroke="#666" stroke-width="0.8"/>
<line x1="-3.5" y1="0.0" x2="0" y2="0.0" stroke="#666" stroke-width="0.8"/>
<line x1="0.0" y1="137" x2="0.0" y2="139.5" stroke="#666" stroke-width="0.8"/>
<line x1="67.2" y1="137" x2="67.2" y2="139.5" stroke="#666" stroke-width="0.8"/>
<line x1="134.3" y1="137" x2="134.3" y2="139.5" stroke="#666" stroke-width="0.8"/>
<line x1="201.5" y1="137" x2="201.5" y2="139.5" stroke="#666" stroke-width="0.8"/>
<text x="-5" y="141.3" font-size="12" text-anchor="end" fill="#222">0</text>
<text x="-5" y="107.0" font-size="12" text-anchor="end" fill="#222">1</text>
<text x="-5" y="72.8" font-size="12" text-anchor="end" fill="#222">2</text>
<text x="-5" y="38.5" font-size="12" text-anchor="end" fill="#222">3</text>
<text x="-5" y="4.3" font-size="12" text-anchor="end" fill="#222">4</text>
<text x="0.0" y="151.5" font-size="12" text-anchor="middle" fill="#222">0</text>
<text x="67.2" y="151.5" font-size="12" text-anchor="middle" fill="#222">5</text>
<text x="134.3" y="151.5" font-size="12" text-anchor="middle" fill="#222">10</text>
<text x="201.5" y="151.5" font-size="12" text-anchor="middle" fill="#222">15</text>
<text x="101.2" y="165.2" font-size="13.8" font-weight="bold" text-anchor="middle" fill="#111">k (Å<tspan font-size="9.5" dy="-5.5">-1</tspan><tspan dy="5.5">)</tspan></text>
<text transform="translate(-19.5,68.5) rotate(-90)" font-size="13.4" font-weight="bold" text-anchor="middle" fill="#111">R+α (Å)</text>
<text x="72.7" y="91.5" font-size="12" font-weight="bold" fill="#fff0ee" text-anchor="middle">Cu-O</text>
</g>
<text x="9.5" y="183" font-size="14" font-weight="bold" fill="#111">e</text>
<text x="261.5" y="183" font-size="14" font-weight="bold" fill="#111">f</text>
<text x="4" y="376" font-size="14" font-weight="bold" fill="#111">g</text>
<text x="265" y="374" font-size="14" font-weight="bold" fill="#111">h</text>
<text x="540" y="190" font-size="14" font-weight="bold" fill="#111">i</text>
</svg>
</body></html>
